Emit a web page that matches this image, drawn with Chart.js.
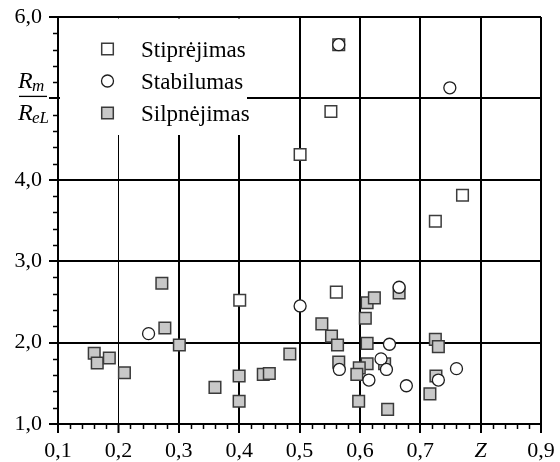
<!DOCTYPE html>
<html>
<head>
<meta charset="utf-8">
<script src="https://cdn.jsdelivr.net/npm/chart.js@4.4.0/dist/chart.umd.min.js"></script>
<style>
  html, body { margin: 0; padding: 0; background: #fff; }
</style>
</head>
<body>
<canvas id="chart" width="560" height="462"></canvas>
<script>
// Stiprėjimas (hollow squares)
const stiprZ = [0.565, 0.552, 0.501, 0.770, 0.725, 0.401, 0.561];
const stiprR = [5.66, 4.84, 4.31, 3.81, 3.49, 2.52, 2.62];

// Stabilumas (circles)
const stabZ = [0.565, 0.749, 0.250, 0.501, 0.665, 0.649, 0.566, 0.635, 0.644, 0.615, 0.677, 0.730, 0.760];
const stabR = [5.66, 5.13, 2.11, 2.45, 2.68, 1.98, 1.67, 1.80, 1.67, 1.54, 1.47, 1.54, 1.68];

// Silpnėjimas (grey squares)
const silpZ = [0.160, 0.165, 0.185, 0.210, 0.272, 0.277, 0.301, 0.360, 0.400, 0.400,
               0.440, 0.450, 0.484, 0.537, 0.553, 0.563, 0.565, 0.612, 0.624, 0.609,
               0.612, 0.612, 0.641, 0.599, 0.595, 0.598, 0.646, 0.665, 0.725, 0.730,
               0.726, 0.716];
const silpR = [1.87, 1.75, 1.81, 1.63, 2.73, 2.18, 1.97, 1.45, 1.59, 1.28,
               1.61, 1.62, 1.86, 2.23, 2.08, 1.97, 1.76, 2.49, 2.55, 2.30,
               1.99, 1.74, 1.74, 1.69, 1.61, 1.28, 1.18, 2.61, 2.04, 1.95,
               1.59, 1.37];

const legendLabels = ['Stiprėjimas', 'Stabilumas', 'Silpnėjimas'];

const serif = "'Liberation Serif', serif";

function toPoints(xs, ys) {
    return xs.map((x, i) => ({ x: x, y: ys[i] }));
}

function near(v, step) {
    return Math.abs(v / step - Math.round(v / step)) < 1e-6;
}

function comma(v) {
    return v.toFixed(1).replace('.', ',');
}

const datasets = [
    {
        label: legendLabels[0],
        data: toPoints(stiprZ, stiprR),
        pointStyle: 'rect',
        pointRadius: 8.2,
        backgroundColor: '#ffffff',
        borderColor: '#3c3c3c',
        borderWidth: 1.5,
        order: 1,
    },
    {
        label: legendLabels[1],
        data: toPoints(stabZ, stabR),
        pointStyle: 'circle',
        pointRadius: 6,
        backgroundColor: '#ffffff',
        borderColor: '#1e1e1e',
        borderWidth: 1.3,
        order: 0,
    },
    {
        label: legendLabels[2],
        data: toPoints(silpZ, silpR),
        pointStyle: 'rect',
        pointRadius: 8.2,
        backgroundColor: '#c8c8c8',
        borderColor: '#3a3a3a',
        borderWidth: 1.5,
        order: 2,
    },
];

// white box with the legend, painted over the grid
const legendBox = {
    id: 'legendBox',
    beforeDatasetsDraw(chart) {
        const ctx = chart.ctx;
        const area = chart.chartArea;
        ctx.save();
        ctx.fillStyle = '#ffffff';
        ctx.fillRect(area.left + 2, area.top + 1.5, 247 - area.left - 2, 135 - area.top - 1.5);

        const rows = [49, 81, 113];
        rows.forEach((y, i) => {
            const ds = chart.data.datasets[i];
            ctx.fillStyle = ds.backgroundColor;
            ctx.strokeStyle = ds.borderColor;
            ctx.lineWidth = ds.borderWidth;
            ctx.beginPath();
            if (ds.pointStyle === 'circle') {
                ctx.arc(107.5, y, 6, 0, Math.PI * 2);
            } else {
                ctx.rect(101.7, y - 5.8, 11.6, 11.6);
            }
            ctx.fill();
            ctx.stroke();

            ctx.fillStyle = '#000';
            ctx.font = '23px ' + serif;
            ctx.textBaseline = 'alphabetic';
            ctx.textAlign = 'left';
            ctx.fillText(ds.label, 141, y + 7.5);
        });
        ctx.restore();
    },
};

// short minor ticks and the Rm / ReL axis title
const extras = {
    id: 'extras',
    afterDraw(chart) {
        const ctx = chart.ctx;
        const xs = chart.scales.x;
        const ys = chart.scales.y;
        ctx.save();
        ctx.strokeStyle = '#000';
        ctx.lineWidth = 1.5;
        ctx.beginPath();
        xs.ticks.forEach(t => {
            if (near(t.value, 0.1)) return;
            const px = Math.round(xs.getPixelForValue(t.value)) + 0.5;
            ctx.moveTo(px, ys.bottom);
            ctx.lineTo(px, ys.bottom + 5);
        });
        ys.ticks.forEach(t => {
            if (near(t.value, 1)) return;
            const py = Math.round(ys.getPixelForValue(t.value)) + 0.5;
            ctx.moveTo(xs.left, py);
            ctx.lineTo(xs.left - 5, py);
        });
        ctx.stroke();

        // fraction Rm / ReL in place of the 5,0 label
        const yMid = ys.getPixelForValue(5);
        ctx.fillStyle = '#000';
        ctx.textAlign = 'left';
        ctx.textBaseline = 'alphabetic';
        ctx.font = 'italic 24px ' + serif;
        ctx.fillText('R', 18, yMid - 10);
        ctx.fillText('R', 18, yMid + 22);
        ctx.font = 'italic 17px ' + serif;
        ctx.fillText('m', 32, yMid - 7);
        ctx.fillText('eL', 32, yMid + 25);
        ctx.lineWidth = 1.3;
        ctx.beginPath();
        ctx.moveTo(19, yMid - 2);
        ctx.lineTo(47, yMid - 2);
        ctx.stroke();
        ctx.restore();
    },
};

new Chart(
    document.getElementById('chart').getContext('2d'),
    {
        type: 'scatter',
        data: { datasets: datasets },
        plugins: [legendBox, extras],
        options: {
            responsive: false,
            animation: false,
            layout: { padding: { left: 0, top: 17, right: 19, bottom: 0 } },
            plugins: {
                legend: { display: false },
                tooltip: { enabled: false },
            },
            scales: {
                x: {
                    type: 'linear',
                    min: 0.1,
                    max: 0.9,
                    afterFit: (scale) => {
                        scale.height = 38;
                        scale.paddingLeft = 0;
                        scale.paddingRight = 0;
                    },
                    border: { color: '#000', width: 2 },
                    grid: {
                        color: (c) => (c.tick && near(c.tick.value, 0.1)) ? '#000' : 'rgba(0,0,0,0)',
                        lineWidth: (c) => (c.tick && Math.abs(c.tick.value - 0.2) < 1e-6) ? 1 : 2,
                        tickColor: (c) => (c.tick && near(c.tick.value, 0.1)) ? '#000' : 'rgba(0,0,0,0)',
                        tickWidth: 2,
                        tickLength: 9,
                    },
                    ticks: {
                        stepSize: 0.02,
                        autoSkip: false,
                        maxRotation: 0,
                        padding: 5,
                        color: '#000',
                        font: (c) => ({
                            family: serif,
                            size: 22,
                            style: (c.tick && Math.abs(c.tick.value - 0.8) < 1e-6) ? 'italic' : 'normal',
                        }),
                        callback: (v) => {
                            if (!near(v, 0.1)) return '';
                            if (Math.abs(v - 0.8) < 1e-6) return 'Z';
                            return comma(v);
                        },
                    },
                },
                y: {
                    type: 'linear',
                    min: 1,
                    max: 6,
                    afterFit: (scale) => {
                        scale.width = 58;
                        scale.paddingTop = 0;
                        scale.paddingBottom = 0;
                    },
                    border: { color: '#000', width: 2 },
                    grid: {
                        color: (c) => (c.tick && near(c.tick.value, 1)) ? '#000' : 'rgba(0,0,0,0)',
                        lineWidth: 2,
                        tickColor: (c) => (c.tick && near(c.tick.value, 1)) ? '#000' : 'rgba(0,0,0,0)',
                        tickWidth: 2,
                        tickLength: 9,
                    },
                    ticks: {
                        stepSize: 0.2,
                        autoSkip: false,
                        padding: 7,
                        color: '#000',
                        font: { family: serif, size: 22 },
                        callback: (v) => {
                            if (!near(v, 1)) return '';
                            if (Math.abs(v - 5) < 1e-6) return '';
                            return comma(v);
                        },
                    },
                },
            },
        },
    }
);
</script>
</body>
</html>
